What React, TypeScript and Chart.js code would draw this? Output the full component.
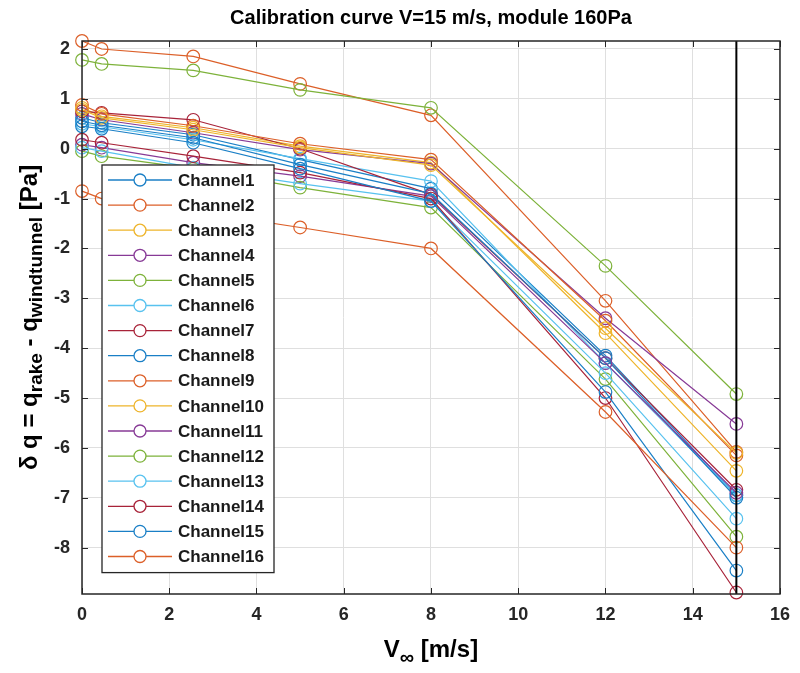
import React, { useEffect, useRef } from "react";
import { Chart, registerables } from "chart.js";

Chart.register(...registerables);

// ---------- data ----------
const velocities = [0, 0.45, 2.55, 5, 8, 12, 15];

const channel1 = [0.62, 0.52, 0.28, -0.22, -0.8, -4.15, -6.95];
const channel2 = [2.16, 2.0, 1.85, 1.3, 0.67, -3.05, -6.08];
const channel3 = [0.82, 0.65, 0.42, 0.05, -0.28, -3.7, -6.46];
const channel4 = [0.7, 0.58, 0.32, -0.02, -0.3, -3.4, -5.52];
const channel5 = [1.78, 1.7, 1.57, 1.18, 0.82, -2.35, -4.92];
const channel6 = [0.5, 0.44, 0.18, -0.2, -0.65, -4.3, -6.95];
const channel7 = [0.75, 0.72, 0.58, 0.0, -0.92, -4.2, -6.84];
const channel8 = [0.55, 0.47, 0.22, -0.32, -0.9, -4.2, -7.0];
const channel9 = [0.88, 0.7, 0.46, 0.1, -0.22, -3.45, -6.15];
const channel10 = [0.78, 0.62, 0.38, 0.02, -0.33, -3.6, -6.1];
const channel11 = [0.08, 0.02, -0.28, -0.55, -0.95, -4.3, -6.9];
const channel12 = [-0.05, -0.15, -0.4, -0.78, -1.18, -4.62, -7.78];
const channel13 = [0.02, -0.05, -0.38, -0.7, -1.05, -4.5, -7.42];
const channel14 = [0.18, 0.12, -0.15, -0.48, -1.0, -5.0, -8.9];
const channel15 = [0.45, 0.4, 0.12, -0.4, -1.05, -4.88, -8.46];
const channel16 = [-0.85, -1.0, -1.25, -1.58, -2.0, -5.28, -8.0];

const channelValues = [
  channel1, channel2, channel3, channel4, channel5, channel6, channel7, channel8,
  channel9, channel10, channel11, channel12, channel13, channel14, channel15, channel16,
];
const channelNames = channelValues.map((_, i) => `Channel${i + 1}`);

const matlabColors = ["#1a7fc6", "#dc5f28", "#eeb42a", "#873a96", "#7db23a", "#58c2ef", "#a82339"];

const xTickValues = [0, 2, 4, 6, 8, 10, 12, 14, 16];
const xMin = 0;
const xMax = 16;
const yMin = -8.93;
const yMax = 2.16;
const markerLineX = 15;

const titleText = "Calibration curve V=15 m/s, module 160Pa";

// ---------- helpers ----------
const FONT = '"Liberation Sans", Arial, Helvetica, sans-serif';
const AX = "#262626";

type Part = { t: string; sub?: boolean };

function drawRich(ctx: CanvasRenderingContext2D, parts: Part[], cx: number, cy: number, rot: number, size: number, subSize: number, subDrop: number) {
  ctx.save();
  ctx.translate(cx, cy);
  ctx.rotate(rot);
  ctx.fillStyle = "#000";
  ctx.textBaseline = "middle";
  ctx.textAlign = "left";
  let total = 0;
  const widths = parts.map((p) => {
    ctx.font = `bold ${p.sub ? subSize : size}px ${FONT}`;
    const w = ctx.measureText(p.t).width;
    total += w;
    return w;
  });
  let x = -total / 2;
  parts.forEach((p, i) => {
    ctx.font = `bold ${p.sub ? subSize : size}px ${FONT}`;
    ctx.fillText(p.t, x, p.sub ? subDrop : 0);
    x += widths[i];
  });
  ctx.restore();
}

const decorPlugin = {
  id: "decor",
  afterDraw(chart: any) {
    const { ctx, chartArea: a, scales } = chart;
    const xs = scales.x;
    const ys = scales.y;
    ctx.save();

    // inward ticks
    ctx.strokeStyle = AX;
    ctx.lineWidth = 1;
    const tl = 6;
    xTickValues.forEach((v) => {
      const px = Math.round(xs.getPixelForValue(v)) + 0.5;
      ctx.beginPath();
      ctx.moveTo(px, a.bottom);
      ctx.lineTo(px, a.bottom - tl);
      ctx.moveTo(px, a.top);
      ctx.lineTo(px, a.top + tl);
      ctx.stroke();
    });
    ys.ticks.forEach((t: any) => {
      const py = Math.round(ys.getPixelForValue(t.value)) + 0.5;
      ctx.beginPath();
      ctx.moveTo(a.left, py);
      ctx.lineTo(a.left + tl, py);
      ctx.moveTo(a.right, py);
      ctx.lineTo(a.right - tl, py);
      ctx.stroke();
    });

    // axes box
    ctx.lineWidth = 1.5;
    ctx.strokeStyle = AX;
    ctx.strokeRect(a.left, a.top, a.right - a.left, a.bottom - a.top);

    // legend
    const lgLeft = a.left + 20;
    const lgTop = a.top + 124;
    const rowH = 25.1;
    const lgW = 172;
    const lgH = rowH * channelNames.length + 6;
    ctx.fillStyle = "#fff";
    ctx.fillRect(lgLeft, lgTop, lgW, lgH);
    ctx.lineWidth = 1.3;
    ctx.strokeStyle = AX;
    ctx.strokeRect(lgLeft, lgTop, lgW, lgH);
    ctx.font = `bold 17px ${FONT}`;
    ctx.textBaseline = "middle";
    ctx.textAlign = "left";
    channelNames.forEach((name, i) => {
      const cy = lgTop + 15 + i * rowH;
      const col = matlabColors[i % matlabColors.length];
      ctx.strokeStyle = col;
      ctx.lineWidth = 1.3;
      ctx.beginPath();
      ctx.moveTo(lgLeft + 6, cy);
      ctx.lineTo(lgLeft + 70, cy);
      ctx.stroke();
      ctx.beginPath();
      ctx.arc(lgLeft + 38, cy, 6, 0, Math.PI * 2);
      ctx.fillStyle = "#fff";
      ctx.fill();
      ctx.stroke();
      ctx.fillStyle = "#1a1a1a";
      ctx.fillText(name, lgLeft + 76, cy + 1);
    });

    // axis titles
    drawRich(ctx, [{ t: "V" }, { t: "\u221E", sub: true }, { t: " [m/s]" }], (a.left + a.right) / 2, 650, 0, 24, 20, 8);
    drawRich(
      ctx,
      [{ t: "\u03B4 q = q" }, { t: "rake", sub: true }, { t: " - q" }, { t: "windtunnel", sub: true }, { t: " [Pa]" }],
      30,
      (a.top + a.bottom) / 2,
      -Math.PI / 2,
      24,
      19,
      7
    );
    ctx.restore();
  },
};

export default function App() {
  const ref = useRef<HTMLCanvasElement | null>(null);
  useEffect(() => {
    if (!ref.current) return;
    const datasets: any[] = channelValues.map((vals, i) => {
      const col = matlabColors[i % matlabColors.length];
      return {
        label: channelNames[i],
        data: velocities.map((v, j) => ({ x: v, y: vals[j] })),
        borderColor: col,
        backgroundColor: "transparent",
        pointBorderColor: col,
        pointBackgroundColor: "rgba(0,0,0,0)",
        pointRadius: 6.3,
        pointBorderWidth: 1.2,
        borderWidth: 1.2,
        pointStyle: "circle",
        tension: 0,
        fill: false,
        clip: false,
        order: channelValues.length - i,
      };
    });
    datasets.push({
      label: "marker",
      data: [
        { x: markerLineX, y: yMin },
        { x: markerLineX, y: yMax },
      ],
      borderColor: "#000",
      borderWidth: 2,
      pointRadius: 0,
      fill: false,
      clip: false,
      order: -1,
    });

    const chart = new Chart(ref.current, {
      type: "line",
      data: { datasets },
      options: {
        animation: false,
        responsive: false,
        maintainAspectRatio: false,
        layout: { padding: { left: 0, right: 17, top: 0, bottom: 0 } },
        plugins: {
          legend: { display: false },
          tooltip: { enabled: false },
          title: {
            display: true,
            text: titleText,
            fullSize: false,
            color: "#000",
            font: { family: FONT, size: 20, weight: "bold" },
            padding: { top: 6, bottom: 11 },
          },
        },
        scales: {
          x: {
            type: "linear",
            min: xMin,
            max: xMax,
            afterBuildTicks: (s: any) => {
              s.ticks = xTickValues.map((v) => ({ value: v }));
            },
            afterFit: (s: any) => {
              s.height = 79;
            },
            grid: { color: "#dfdfdf", drawTicks: false, lineWidth: 1 },
            border: { display: false },
            ticks: {
              color: AX,
              font: { family: FONT, size: 18, weight: "bold" },
              padding: 10,
              maxRotation: 0,
            },
          },
          y: {
            type: "linear",
            min: yMin,
            max: yMax,
            afterFit: (s: any) => {
              s.width = 82;
            },
            grid: { color: "#dfdfdf", drawTicks: false, lineWidth: 1 },
            border: { display: false },
            ticks: {
              stepSize: 1,
              includeBounds: false,
              color: AX,
              font: { family: FONT, size: 18, weight: "bold" },
              padding: 12,
            },
          },
        },
      },
      plugins: [decorPlugin],
    });
    return () => chart.destroy();
  }, []);

  return (
    <div style={{ position: "fixed", left: 0, top: 0, width: 800, height: 673, background: "#fff" }}>
      <canvas ref={ref} width={800} height={673} style={{ width: 800, height: 673, display: "block" }} />
    </div>
  );
}
